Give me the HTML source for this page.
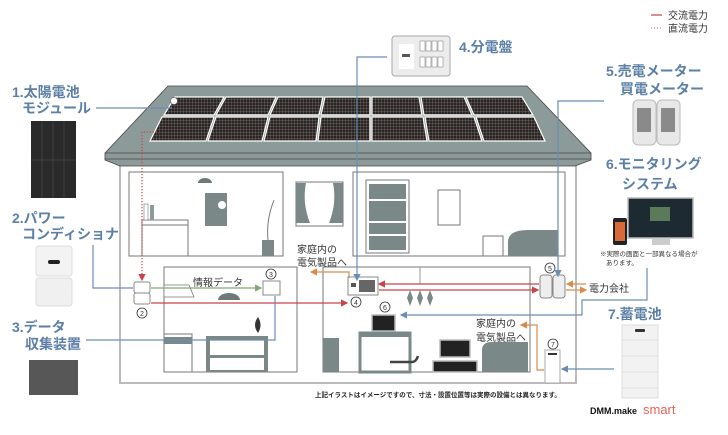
<!DOCTYPE html>
<html><head><meta charset="utf-8"><style>
html,body{margin:0;padding:0;background:#fff;}
svg{display:block;font-family:"Liberation Sans","Noto Sans CJK JP",sans-serif;}
.lb{fill:#5b7fa6;font-size:14px;font-weight:bold;}
.sm{fill:#333;font-size:10px;}
.ci{fill:#fff;stroke:#333;stroke-width:0.8;}
.cn{font-size:7px;fill:#333;text-anchor:middle;}
</style></head><body>
<svg width="728" height="435" viewBox="0 0 728 435" xmlns="http://www.w3.org/2000/svg">
<defs>
<pattern id="cell" width="3" height="3" patternUnits="userSpaceOnUse">
<rect width="3" height="3" fill="#2a2422"/><path d="M0 0H3M0 0V3" stroke="#bbb" stroke-width="0.4"/>
</pattern>
<marker id="aR" markerWidth="6" markerHeight="6" refX="5" refY="3" orient="auto"><path d="M0,0L6,3L0,6z" fill="#c8434a"/></marker>
<marker id="aG" markerWidth="6" markerHeight="6" refX="5" refY="3" orient="auto"><path d="M0,0L6,3L0,6z" fill="#7faa6e"/></marker>
<marker id="aB" markerWidth="6" markerHeight="6" refX="5" refY="3" orient="auto"><path d="M0,0L6,3L0,6z" fill="#6b8db3"/></marker>
<marker id="aO" markerWidth="6" markerHeight="6" refX="5" refY="3" orient="auto"><path d="M0,0L6,3L0,6z" fill="#d98c4a"/></marker>
</defs>

<line x1="651" y1="15" x2="662" y2="15" stroke="#c8434a" stroke-width="1.2"/>
<text x="668" y="19" class="sm" font-size="9">交流電力</text>
<line x1="651" y1="28" x2="662" y2="28" stroke="#c8434a" stroke-width="1" stroke-dasharray="1,2"/>
<text x="668" y="32" class="sm" font-size="9">直流電力</text>

<rect x="120" y="160" width="456" height="223" fill="#fff" stroke="#bbb" stroke-width="2"/>
<polygon points="168,86 527,86 591,153 591,160 575,166 120,166 105,160 105,153" fill="#8d9a9a" stroke="#444" stroke-width="0.8"/>
<line x1="105" y1="153" x2="591" y2="153" stroke="#444" stroke-width="0.8"/>
<line x1="105" y1="159" x2="591" y2="159" stroke="#444" stroke-width="0.8"/>
<g stroke="#fff" stroke-width="1.2" fill="url(#cell)">
<polygon points="175,97 224,97 214,115 164,115"/>
<polygon points="226,97 276,97 268,115 216,115"/>
<polygon points="278,97 323,97 319,115 270,115"/>
<polygon points="325,97 370,97 370,115 321,115"/>
<polygon points="372,97 419,97 422,115 372,115"/>
<polygon points="421,97 464,97 472,115 424,115"/>
<polygon points="466,97 522,97 533,115 474,115"/>
<polygon points="162,117 214,117 206,141 150,141"/>
<polygon points="216,117 268,117 262,141 208,141"/>
<polygon points="270,117 319,117 316,141 264,141"/>
<polygon points="321,117 370,117 370,141 318,141"/>
<polygon points="372,117 423,117 427,141 372,141"/>
<polygon points="425,117 474,117 482,141 429,141"/>
<polygon points="476,117 534,117 545,141 484,141"/>
</g>
<circle cx="174" cy="101" r="3.5" fill="#fff" stroke="#555" stroke-width="0.6"/>

<g fill="none" stroke="#777" stroke-width="1">
<rect x="129" y="172" width="154" height="84"/>
<rect x="353" y="172" width="212" height="84"/>
<rect x="164" y="267" width="133" height="105"/>
<rect x="323" y="267" width="207" height="105"/>
</g>
<rect x="142" y="220" width="46" height="36" fill="#fff" stroke="#777"/>
<line x1="142" y1="225" x2="188" y2="225" stroke="#777"/>
<rect x="144" y="204" width="4" height="16" fill="#fff" stroke="#777" stroke-width="0.6"/><rect x="150" y="205" width="4" height="15" fill="#8d9a9a"/>
<path d="M198,183 a7,5 0 0 1 14,0z" fill="#6d7a7a"/>
<rect x="205" y="193" width="22" height="33" fill="#7b8888"/><circle cx="222" cy="205" r="4" fill="#fff"/>
<rect x="262" y="240" width="12" height="16" fill="#7b8888"/>
<path d="M268,240 Q266,220 274,200" stroke="#777" fill="none"/>
<rect x="296" y="182" width="47" height="44" fill="#fff" stroke="#777"/>
<path d="M296,183 h10 q-4,20 4,40 h-14z" fill="#7b8888"/><path d="M343,183 h-10 q4,20 -4,40 h14z" fill="#7b8888"/>
<rect x="366" y="180" width="43" height="73" fill="#fff" stroke="#777"/>
<rect x="369" y="184" width="37" height="66" fill="#7b8888"/>
<line x1="368" y1="200" x2="408" y2="200" stroke="#fff" stroke-width="2"/><line x1="368" y1="222" x2="408" y2="222" stroke="#fff" stroke-width="2"/><line x1="368" y1="235" x2="408" y2="235" stroke="#fff" stroke-width="2"/>
<rect x="438" y="190" width="22" height="35" fill="#fff" stroke="#777"/>
<rect x="483" y="236" width="20" height="20" fill="#fff" stroke="#777"/>
<path d="M508,256 v-14 q0,-12 20,-12 h30 v26z" fill="#7b8888"/>
<path d="M164,267 v30 h30 l-5,-12 h-25" fill="#fff" stroke="#777" stroke-width="0.8"/>
<path d="M218,300 a11,7 0 0 1 22,0z" fill="#6d7a7a"/>
<rect x="164" y="334" width="28" height="38" fill="#fff" stroke="#777"/>
<rect x="164" y="337" width="28" height="7" fill="#7b8888"/>
<rect x="206" y="336" width="62" height="36" fill="#7b8888"/>
<rect x="210" y="340" width="54" height="15" fill="#fff"/><rect x="210" y="358" width="54" height="12" fill="#fff"/>
<path d="M258,333 q-6,-8 0,-16 q5,8 0,16z" fill="#333"/>
<rect x="323" y="338" width="16" height="34" fill="#7b8888"/>
<rect x="360" y="333" width="50" height="39" fill="none" stroke="#7b8888" stroke-width="3"/>
<rect x="360" y="333" width="50" height="4" fill="#7b8888"/>
<rect x="372" y="315" width="23" height="16" fill="#222" stroke="#bbb" stroke-width="1.5"/>
<rect x="440" y="340" width="30" height="17" fill="#222" stroke="#bbb" stroke-width="1.5"/>
<rect x="433" y="361" width="44" height="11" fill="#222" stroke="#bbb" stroke-width="1.5"/>
<path d="M482,372 v-22 q0,-8 10,-8 h36 v30z" fill="#7b8888"/>
<path d="M390,362 h22 q4,0 6,-6" stroke="#444" fill="none" stroke-width="2.5"/>
<line x1="420" y1="267" x2="420" y2="284" stroke="#999"/>
<g fill="#7b8888"><path d="M410,290 l3,8 l-3,8 l-3,-8z"/><path d="M420,290 l3,8 l-3,8 l-3,-8z"/><path d="M430,290 l3,8 l-3,8 l-3,-8z"/></g>

<rect x="134" y="282" width="16" height="11" rx="2" fill="#fff" stroke="#888"/>
<rect x="134" y="293" width="16" height="11" rx="2" fill="#fff" stroke="#888"/>
<rect x="263" y="281" width="17" height="14" fill="#fff" stroke="#888"/>
<rect x="348" y="277" width="30" height="18" fill="#fff" stroke="#888"/>
<rect x="351" y="283" width="5" height="4" fill="#555"/><rect x="359" y="280" width="16" height="12" fill="#666"/>
<rect x="540" y="275" width="12" height="23" rx="3" fill="#eee" stroke="#888"/>
<rect x="553" y="275" width="12" height="23" rx="3" fill="#eee" stroke="#888"/>
<rect x="545" y="350" width="15" height="33" fill="#fff" stroke="#aaa"/>
<rect x="548" y="353" width="9" height="2" fill="#333"/>

<g>
<circle cx="142" cy="313" r="5" class="ci"/><text x="142" y="316" class="cn">2</text>
<circle cx="271" cy="274" r="5" class="ci"/><text x="271" y="277" class="cn">3</text>
<circle cx="356" cy="302" r="5" class="ci"/><text x="356" y="305" class="cn">4</text>
<circle cx="550" cy="268" r="5" class="ci"/><text x="550" y="271" class="cn">5</text>
<circle cx="385" cy="307" r="5" class="ci"/><text x="385" y="310" class="cn">6</text>
<circle cx="553" cy="344" r="5" class="ci"/><text x="553" y="347" class="cn">7</text>
</g>

<g fill="none" stroke-width="1.2">
<line x1="96" y1="108" x2="172" y2="108" stroke="#6b8db3"/>
<path d="M157,132 H142 V280" stroke="#c8434a" stroke-dasharray="1.2,1.8" marker-end="url(#aR)"/>
<path d="M93,245 V288 H133" stroke="#6b8db3"/>
<line x1="151" y1="288" x2="261" y2="288" stroke="#7faa6e" marker-end="url(#aG)"/>
<line x1="151" y1="303" x2="347" y2="303" stroke="#c8434a" marker-end="url(#aR)"/>
<path d="M86,340 H275 V296" stroke="#6b8db3"/>
<path d="M387,57 H357 V280" stroke="#6b8db3" marker-end="url(#aB)"/>
<path d="M349,278 V272 H311" stroke="#d98c4a" marker-end="url(#aO)"/>
<line x1="539" y1="284" x2="379" y2="284" stroke="#c8434a" marker-end="url(#aR)"/>
<line x1="379" y1="290" x2="538" y2="290" stroke="#c8434a" marker-end="url(#aR)"/>
<path d="M604,101 H558 V276" stroke="#6b8db3" marker-end="url(#aB)"/>
<line x1="586" y1="284" x2="567" y2="284" stroke="#d98c4a" marker-end="url(#aO)"/>
<line x1="566" y1="290" x2="586" y2="290" stroke="#d98c4a" marker-end="url(#aO)"/>
<path d="M647,268 V300 H582 V315 H401" stroke="#6b8db3" marker-end="url(#aB)"/>
<line x1="614" y1="369" x2="562" y2="369" stroke="#6b8db3" marker-end="url(#aB)"/>
<path d="M544,370 H537 V325 H521" stroke="#d98c4a" marker-end="url(#aO)"/>
</g>

<text x="193" y="286" class="sm">情報データ</text>
<text x="297" y="253" class="sm">家庭内の</text>
<text x="297" y="266" class="sm">電気製品へ</text>
<text x="476" y="327" class="sm">家庭内の</text>
<text x="476" y="341" class="sm">電気製品へ</text>
<text x="589" y="292" class="sm">電力会社</text>

<text x="12" y="97" class="lb">1.太陽電池</text>
<text x="22" y="113" class="lb">モジュール</text>
<rect x="31" y="121" width="45" height="77" fill="#2a2a2a"/>
<g stroke="#555" stroke-width="0.5"><line x1="31" y1="160" x2="76" y2="160"/><line x1="42" y1="121" x2="42" y2="198"/><line x1="53" y1="121" x2="53" y2="198"/><line x1="64" y1="121" x2="64" y2="198"/></g>

<text x="12" y="223" class="lb">2.パワー</text>
<text x="22" y="239" class="lb">コンディショナ</text>
<rect x="36" y="246" width="36" height="30" rx="3" fill="#f3f3f3" stroke="#ddd"/>
<rect x="36" y="278" width="36" height="28" rx="3" fill="#f0f0f0" stroke="#ddd"/>
<rect x="48" y="260" width="12" height="4" rx="2" fill="#222"/>

<text x="12" y="332" class="lb">3.データ</text>
<text x="25" y="349" class="lb">収集装置</text>
<rect x="29" y="360" width="49" height="35" fill="#575757"/>

<rect x="392" y="36" width="58" height="40" rx="3" fill="#ececec" stroke="#aaa"/>
<rect x="399" y="44" width="15" height="25" fill="#fff"/>
<rect x="402" y="54" width="8" height="3" fill="#555"/>
<g fill="#fff" stroke="#777" stroke-width="0.5"><rect x="420" y="41" width="5" height="10"/><rect x="426" y="41" width="5" height="10"/><rect x="432" y="41" width="5" height="10"/><rect x="438" y="41" width="5" height="10"/><rect x="420" y="57" width="5" height="10"/><rect x="426" y="57" width="5" height="10"/><rect x="432" y="57" width="5" height="10"/><rect x="438" y="57" width="5" height="10"/></g>
<text x="459" y="52" class="lb">4.分電盤</text>

<text x="606" y="76" class="lb">5.売電メーター</text>
<text x="620" y="94" class="lb">買電メーター</text>
<rect x="633" y="100" width="23" height="45" rx="5" fill="#e8e8e8" stroke="#bbb"/>
<rect x="657" y="100" width="23" height="45" rx="5" fill="#e8e8e8" stroke="#bbb"/>
<rect x="637" y="108" width="14" height="24" fill="#8a8a8a"/><rect x="661" y="108" width="14" height="24" fill="#8a8a8a"/>

<text x="606" y="169" class="lb">6.モニタリング</text>
<text x="622" y="189" class="lb">システム</text>
<rect x="628" y="198" width="65" height="40" fill="#1e2a32" stroke="#bbb" stroke-width="1.5"/>
<rect x="650" y="207" width="20" height="14" fill="#5a7a5a"/>
<rect x="652" y="238" width="18" height="7" fill="#ccc"/>
<rect x="613" y="218" width="14" height="27" rx="2" fill="#222"/>
<rect x="615" y="222" width="10" height="19" fill="#d86a3a"/>
<text x="600" y="256" font-size="6.5" fill="#333">※実際の画面と一部異なる場合が</text>
<text x="606" y="265" font-size="6.5" fill="#333">あります。</text>

<text x="608" y="319" class="lb">7.蓄電池</text>
<rect x="622" y="325" width="36" height="73" fill="#f2f2f2" stroke="#ddd"/>
<rect x="635" y="329" width="10" height="3" rx="1" fill="#333"/>
<g stroke="#ddd"><line x1="622" y1="340" x2="658" y2="340"/><line x1="622" y1="356" x2="658" y2="356"/><line x1="622" y1="372" x2="658" y2="372"/><line x1="622" y1="388" x2="658" y2="388"/></g>

<text x="315" y="397" font-size="6.5" font-weight="bold" fill="#222">上記イラストはイメージですので、寸法・設置位置等は実際の設備とは異なります。</text>
<text x="590" y="414" font-size="9" font-weight="bold" fill="#111">DMM.make</text>
<text x="643" y="414" font-size="13" fill="#e7625a">smart</text>
</svg>
</body></html>
